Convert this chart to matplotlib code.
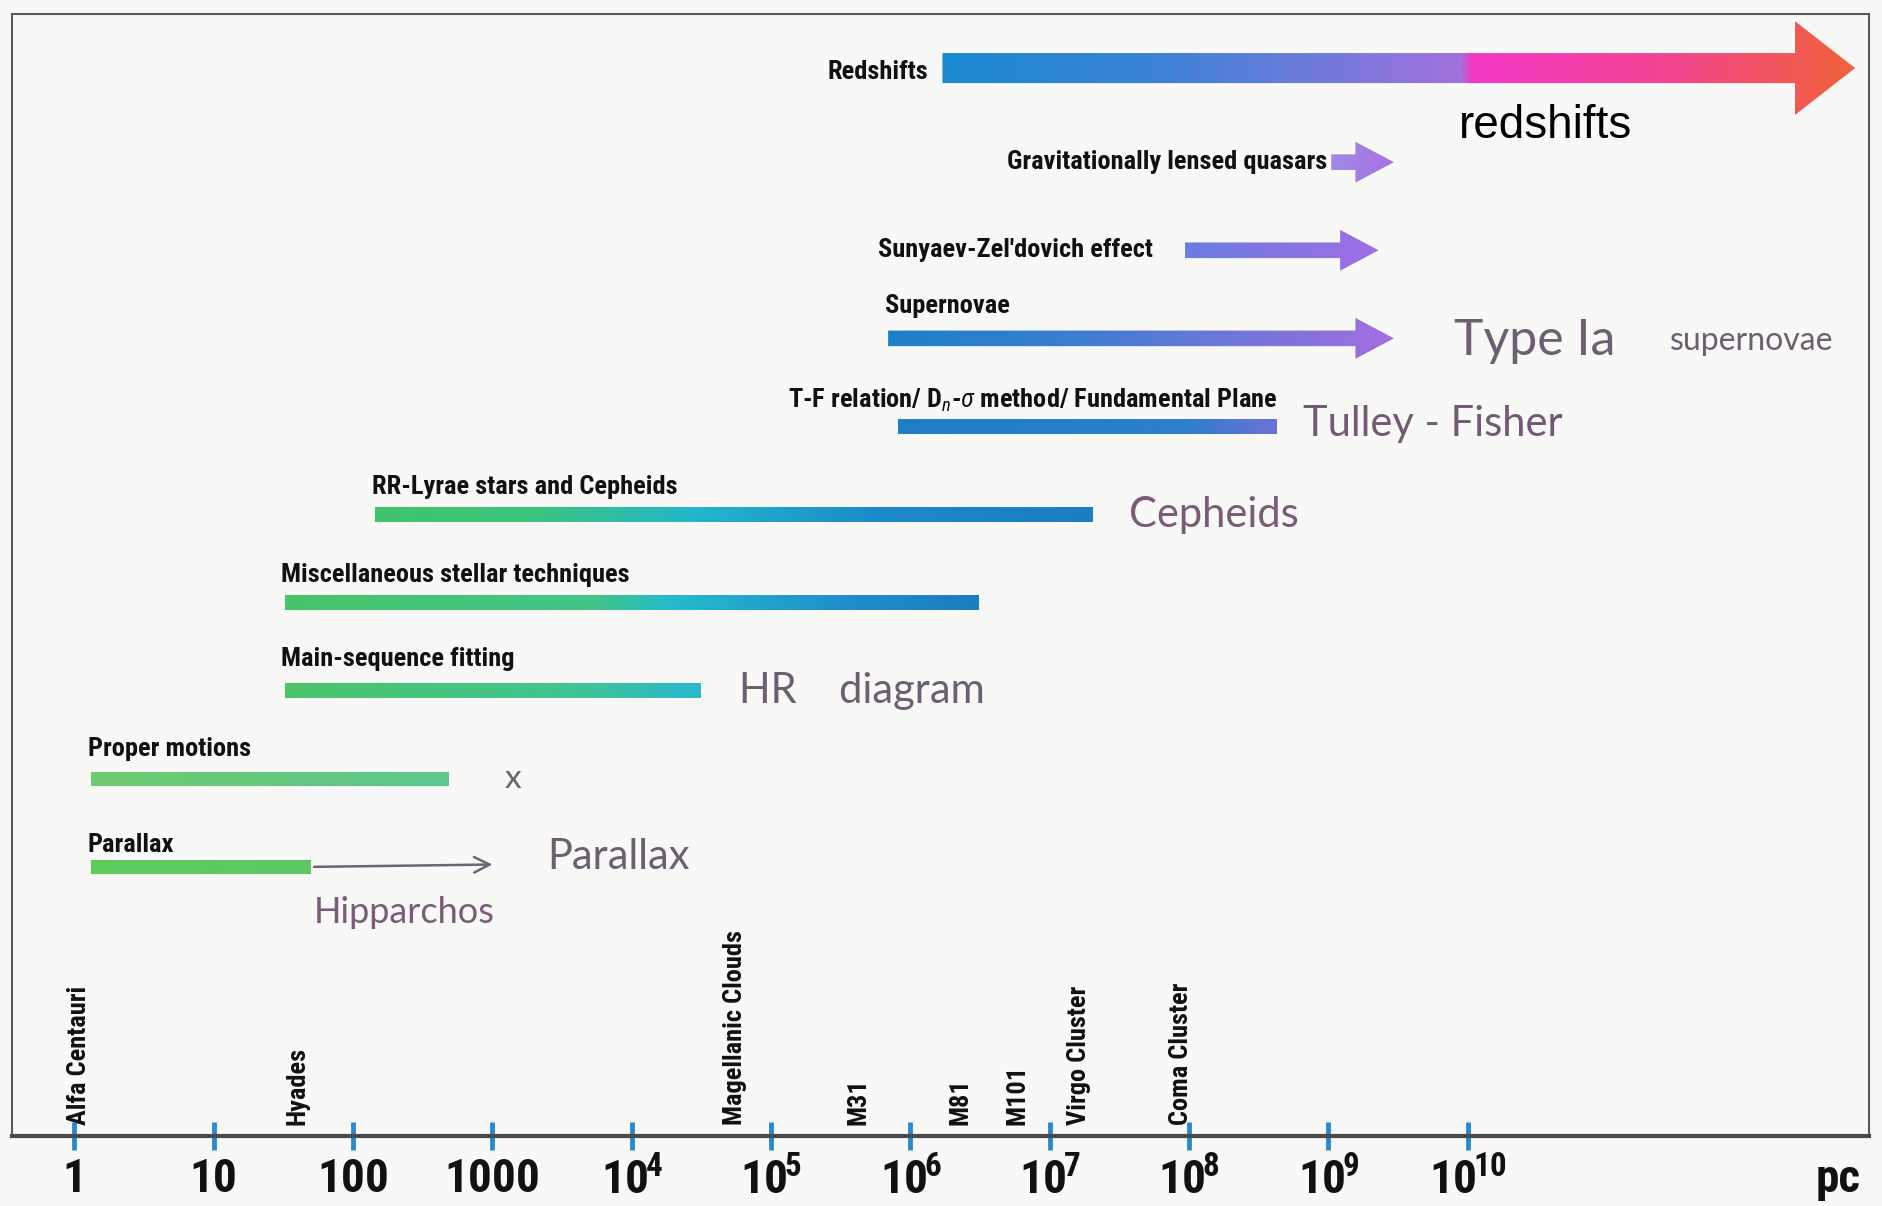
import numpy as np
import matplotlib
matplotlib.use('Agg')
import matplotlib.pyplot as plt
from matplotlib import font_manager
from matplotlib.colors import LinearSegmentedColormap
from matplotlib.patches import Polygon

# Data: distance ranges of each method, in log10(distance / pc)
methods = ['Redshifts', 'Gravitationally lensed quasars', "Sunyaev-Zel'dovich effect",
           'Supernovae', 'T-F relation/ D$_n$-$\\sigma$ method/ Fundamental Plane',
           'RR-Lyrae stars and Cepheids', 'Miscellaneous stellar techniques',
           'Main-sequence fitting', 'Proper motions', 'Parallax']
log_start = [6.23, 9.02, 7.97, 5.84, 5.91, 2.16, 1.51, 1.51, 0.12, 0.12]
log_end = [12.78, 9.47, 9.36, 9.47, 8.63, 7.31, 6.49, 4.50, 2.69, 1.70]
is_arrow = [True, True, True, True, False, False, False, False, False, False]
bar_colors = [
    [(0, '#1a8ad2'), (0.25, '#3f82d6'), (0.45, '#7d78dc'), (0.57, '#a271dc'),
     (0.58, '#f238c6'), (0.8, '#f24690'), (1, '#f0623a')],
    [(0, '#a08ae2'), (1, '#aa70e4')],
    [(0, '#6a7ee0'), (1, '#a06ee4')],
    [(0, '#1c80c8'), (0.35, '#3a7ed0'), (1, '#a46ee2')],
    [(0, '#1f7ec6'), (0.75, '#2c7ecb'), (1, '#6c72d6')],
    [(0, '#40c46c'), (0.22, '#3cc47e'), (0.45, '#22b6cc'), (0.7, '#1c8ac8'), (1, '#1c7cc2')],
    [(0, '#48c46a'), (0.45, '#40c488'), (0.55, '#26bccc'), (0.8, '#1e90cc'), (1, '#1c7cc2')],
    [(0, '#4cc46a'), (0.7, '#40c492'), (1, '#2ab8d0')],
    [(0, '#6ecc6e'), (1, '#5cc88e')],
    [(0, '#5ccc5a'), (1, '#5cc866')],
]

landmarks = ['Alfa Centauri', 'Hyades', 'Magellanic Clouds', 'M31', 'M81', 'M101',
             'Virgo Cluster', 'Coma Cluster']
landmark_log = [0.03, 1.60, 4.74, 5.63, 6.36, 6.77, 7.21, 7.94]

tick_exp = list(range(0, 11))
tick_labels = ['1', '10', '100', '1000'] + ['$\\mathregular{10^{\\!%d}}$' % e for e in range(4, 11)]

# fonts
names = {f.name for f in font_manager.fontManager.ttflist}
narrow = next((n for n in ['Liberation Sans Narrow', 'Roboto Condensed', 'DejaVu Sans Condensed',
                           'Liberation Sans'] if n in names), 'DejaVu Sans')
hand = next((n for n in ['Lato', 'Open Sans', 'DejaVu Sans'] if n in names), 'DejaVu Sans')
plt.rcParams['font.family'] = [narrow, 'DejaVu Sans']
plt.rcParams['mathtext.fontset'] = 'custom'
plt.rcParams['mathtext.rm'] = narrow
plt.rcParams['mathtext.it'] = narrow + ':italic'
plt.rcParams['mathtext.bf'] = narrow + ':bold'

bg = '#f8f8f6'
fig = plt.figure(figsize=(18.83, 12.06), dpi=100, facecolor=bg)
ax = fig.add_axes([12 / 1883, 1 - 1136 / 1206, 1857 / 1883, 1122 / 1206], facecolor=bg)

xu = 1 / 116.0    # data units per reference pixel, x
yu = 1 / 73.33    # data units per reference pixel, y


def grad_bar(x0, x1, y, h, stops, head=None):
    cmap = LinearSegmentedColormap.from_list('g', stops)
    if head is None:
        hl, hw = 0, h
        verts = [(x0, y - h / 2), (x1, y - h / 2), (x1, y + h / 2), (x0, y + h / 2)]
    else:
        hl, hw = head
        xs = x1 - hl
        verts = [(x0, y - h / 2), (xs, y - h / 2), (xs, y - hw / 2), (x1, y),
                 (xs, y + hw / 2), (xs, y + h / 2), (x0, y + h / 2)]
    poly = Polygon(verts, closed=True, facecolor='none', edgecolor='none')
    ax.add_patch(poly)
    im = ax.imshow(np.linspace(0, 1, 600)[None, :], cmap=cmap, aspect='auto',
                   extent=[x0, x1, y + hw / 2, y - hw / 2], interpolation='bilinear', zorder=2)
    im.set_clip_path(poly)


for i in range(len(methods)):
    if i == 0:
        grad_bar(log_start[i], log_end[i], i - 5 * yu, 25 * yu, bar_colors[i], head=(50 * xu, 78 * yu))
    elif is_arrow[i]:
        grad_bar(log_start[i], log_end[i], i, 13 * yu, bar_colors[i], head=(32 * xu, 34 * yu))
    else:
        grad_bar(log_start[i], log_end[i], i, 12 * yu, bar_colors[i])

# method labels
lab = dict(fontsize=19, fontweight='bold', color='#111111', zorder=3)
ax.text(log_start[0] - 12 * xu, 0 - 2 * yu, methods[0], ha='right', va='center', **lab)
ax.text(log_start[1] - 3 * xu, 1, methods[1], ha='right', va='center', **lab)
ax.text(log_start[2] - 27 * xu, 2, methods[2], ha='right', va='center', **lab)
ax.text(log_end[4], 4 - 22 * yu, methods[4], ha='right', va='center', **lab)
for i, dy in [(3, 27), (5, 23), (6, 23), (7, 26), (8, 25), (9, 18)]:
    ax.text(log_start[i] - 3 * xu, i - dy * yu, methods[i], ha='left', va='center', **lab)

# Hipparchos extension of parallax
ax.annotate('', xy=(3.02, 9 - 2 * yu), xytext=(log_end[9], 9),
            arrowprops=dict(arrowstyle='->', color='#6f6474', lw=1.8, mutation_scale=28))

# landmarks
for name, lx in zip(landmarks, landmark_log):
    ax.text(lx, 11.93, name, rotation=90, ha='center', va='bottom',
            fontsize=19, fontweight='bold', color='#111111')

# hand-written notes
hw = dict(family=[hand, 'DejaVu Sans'], fontweight='normal', color='#6c6070', va='center', ha='left')
ax.text(9.94, 0 + 43 * yu, 'redshifts', fontsize=33, color='black',
        family=['Liberation Sans', 'DejaVu Sans'], va='center', ha='left')
ax.text(9.90, 3 + 2 * yu, 'Type Ia', fontsize=36, **hw)
ax.text(11.45, 3 + 2 * yu, 'supernovae', fontsize=23, **hw)
ax.text(8.82, 4 - 2 * yu, 'Tulley - Fisher', fontsize=30, **dict(hw, color='#735a74'))
ax.text(7.57, 5, 'Cepheids', fontsize=30, **dict(hw, color='#7a5c78'))
ax.text(4.77, 7, 'HR    diagram', fontsize=30, **hw)
ax.text(3.09, 8, 'x', fontsize=24, **hw)
ax.text(3.39, 9 - 8 * yu, 'Parallax', fontsize=30, **hw)
ax.text(1.72, 9 + 38 * yu, 'Hipparchos', fontsize=26, **dict(hw, color='#7a5c78'))

# axis
ax.set_xlim(-0.448, 12.88)
ax.set_ylim(12.055, -0.682)
ax.set_xticks(tick_exp)
ax.set_xticklabels(tick_labels)
ax.tick_params(axis='x', direction='inout', length=20, width=3.5, color='#2a8ad0',
               labelsize=34, pad=5, labelcolor='#111111')
for t in ax.get_xticklabels():
    t.set_fontweight('semibold')
ax.set_yticks([])
ax.annotate('pc', xy=(12.66, 0), xycoords=('data', 'axes fraction'), xytext=(0, -15),
            textcoords='offset points', ha='center', va='top', fontsize=34,
            fontweight='semibold', color='#111111')
for s in ['left', 'top', 'right']:
    ax.spines[s].set_color('#5a5a5a')
    ax.spines[s].set_linewidth(1.5)
ax.spines['bottom'].set_color('#4a4a4a')
ax.spines['bottom'].set_linewidth(3)

fig.savefig('out.png', dpi=100, facecolor=bg)
